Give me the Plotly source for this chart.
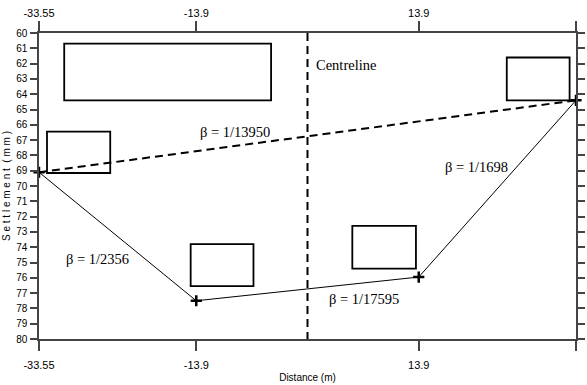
import plotly.graph_objects as go

# Survey stations along the section and measured settlement (mm)
stations = [-33.55, -13.9, 13.9, 33.55]
settlement = [69.1, 77.5, 75.95, 64.4]

# Building footprints drawn on the section: (x0, x1, top, bottom)
buildings = [
    (-30.4, -4.55, 60.7, 64.4),
    (-32.55, -24.65, 66.45, 69.15),
    (-14.6, -6.75, 73.8, 76.55),
    (5.6, 13.55, 72.6, 75.4),
    (24.9, 32.75, 61.6, 64.4),
]

# Angular distortion labels: (x, y, text)
slope_labels = [
    (-9.05, 66.45, "β = 1/13950"),
    (21.1, 68.75, "β = 1/1698"),
    (-26.25, 74.8, "β = 1/2356"),
    (7.0, 77.4, "β = 1/17595"),
]

y_ticks = list(range(60, 81))

AX = "#444444"
NARROW = "Liberation Sans Narrow, Arial Narrow, sans-serif"
SERIF = "Liberation Serif, Times New Roman, serif"

fig = go.Figure()

# Overall tilt (chord between end stations)
fig.add_trace(go.Scatter(
    x=[stations[0], stations[-1]], y=[settlement[0], settlement[-1]],
    mode="lines", line=dict(color="black", width=2, dash="8px,5px"),
    cliponaxis=False, hoverinfo="skip", showlegend=False))

# Settlement profile
fig.add_trace(go.Scatter(
    x=stations, y=settlement, mode="lines+markers",
    line=dict(color="black", width=1),
    marker=dict(symbol="cross-thin", size=8, line=dict(color="black", width=2.5)),
    cliponaxis=False, showlegend=False))

# Centreline
fig.add_trace(go.Scatter(
    x=[0, 0], y=[60, 80], mode="lines",
    line=dict(color="black", width=2, dash="8px,5px"),
    hoverinfo="skip", showlegend=False))

# Invisible trace to carry the top/right axes
fig.add_trace(go.Scatter(
    x=[stations[0], stations[-1]], y=[60, 80], xaxis="x2", yaxis="y2",
    mode="markers", marker=dict(opacity=0), hoverinfo="skip", showlegend=False))

for x0, x1, y0, y1 in buildings:
    fig.add_shape(type="rect", xref="x", yref="y", x0=x0, x1=x1, y0=y0, y1=y1,
                  line=dict(color="black", width=1.8), fillcolor="rgba(0,0,0,0)")

for x, y, t in slope_labels:
    fig.add_annotation(x=x, y=y, text=t, showarrow=False,
                       font=dict(family=SERIF, size=14.5, color="black"))

fig.add_annotation(x=4.8, y=62.1, text="Centreline", showarrow=False,
                   font=dict(family=SERIF, size=14.5, color="black"))

xaxis_common = dict(
    range=[stations[0], stations[-1]], tickmode="array",
    tickvals=stations, ticktext=["-33.55", "-13.9", "13.9", "33.55"],
    ticks="outside", ticklen=10, tickwidth=1.5, tickcolor=AX,
    showline=True, linecolor=AX, linewidth=1.5, showgrid=False, zeroline=False,
    tickfont=dict(family=NARROW, size=11, color="black"), automargin=False)

yaxis_common = dict(
    range=[80, 60], tickmode="array", tickvals=y_ticks,
    ticks="outside", ticklen=7, tickwidth=1.5, tickcolor=AX,
    showline=True, linecolor=AX, linewidth=1.5, showgrid=False, zeroline=False,
    tickfont=dict(family=NARROW, size=10, color="black"), automargin=False)

fig.update_layout(
    width=587, height=385,
    margin=dict(l=39, r=11, t=33, b=46),
    paper_bgcolor="white", plot_bgcolor="white",
    xaxis=dict(**xaxis_common, ticklabelstandoff=5,
               title=dict(text="Distance (m)", standoff=4,
                          font=dict(family=NARROW, size=10, color="black"))),
    xaxis2=dict(**xaxis_common, overlaying="x", side="top", matches="x"),
    yaxis=dict(**yaxis_common, ticklabelstandoff=1,
               title=dict(text="S e t t l e m e n t  ( m m )", standoff=4,
                          font=dict(family=NARROW, size=10, color="black"))),
    yaxis2=dict(**yaxis_common, overlaying="y", side="right",
                showticklabels=False),
)

fig.write_html("out.html")
